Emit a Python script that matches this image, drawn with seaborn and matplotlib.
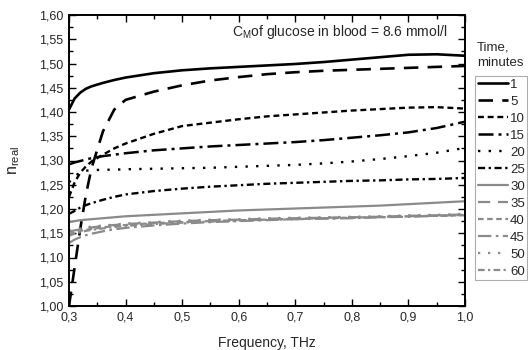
import numpy as np
import pandas as pd
import matplotlib
matplotlib.use("Agg")
import matplotlib.pyplot as plt
from matplotlib.ticker import MultipleLocator, FuncFormatter
import seaborn as sns

# ---------------- data ----------------
freq = [0.30, 0.31, 0.32, 0.33, 0.34, 0.36, 0.38, 0.40, 0.45, 0.50,
        0.55, 0.60, 0.65, 0.70, 0.75, 0.80, 0.85, 0.90, 0.95, 1.00]

times = ["1", "5", "10", "15", "20", "25", "30", "35", "40", "45", "50", "60"]

n_1 = [1.405, 1.428, 1.440, 1.448, 1.453, 1.460, 1.466, 1.471, 1.480, 1.486,
       1.490, 1.493, 1.496, 1.499, 1.503, 1.508, 1.513, 1.518, 1.519, 1.516]
n_5 = [1.000, 1.080, 1.160, 1.230, 1.285, 1.360, 1.405, 1.425, 1.442, 1.455,
       1.465, 1.472, 1.478, 1.482, 1.485, 1.487, 1.489, 1.491, 1.493, 1.495]
n_10 = [1.225, 1.255, 1.275, 1.288, 1.298, 1.312, 1.325, 1.335, 1.355, 1.371,
        1.378, 1.385, 1.391, 1.395, 1.399, 1.403, 1.406, 1.409, 1.410, 1.407]
n_15 = [1.292, 1.296, 1.299, 1.302, 1.305, 1.309, 1.312, 1.315, 1.321, 1.325,
        1.329, 1.332, 1.335, 1.338, 1.342, 1.347, 1.352, 1.358, 1.367, 1.380]
n_20 = [1.255, 1.268, 1.275, 1.279, 1.280, 1.281, 1.281, 1.282, 1.283, 1.284,
        1.285, 1.287, 1.289, 1.291, 1.294, 1.298, 1.303, 1.309, 1.316, 1.326]
n_25 = [1.190, 1.196, 1.203, 1.208, 1.212, 1.219, 1.225, 1.230, 1.237, 1.242,
        1.246, 1.249, 1.252, 1.254, 1.256, 1.258, 1.259, 1.261, 1.262, 1.264]
n_30 = [1.173, 1.175, 1.177, 1.178, 1.179, 1.181, 1.183, 1.185, 1.188, 1.191,
        1.194, 1.197, 1.199, 1.201, 1.203, 1.205, 1.207, 1.210, 1.213, 1.216]
n_35 = [1.153, 1.156, 1.158, 1.160, 1.162, 1.165, 1.167, 1.169, 1.172, 1.175,
        1.177, 1.178, 1.180, 1.181, 1.182, 1.183, 1.184, 1.186, 1.187, 1.189]
n_40 = [1.148, 1.152, 1.155, 1.157, 1.159, 1.162, 1.165, 1.167, 1.171, 1.173,
        1.175, 1.177, 1.178, 1.180, 1.181, 1.182, 1.184, 1.185, 1.186, 1.187]
n_45 = [1.130, 1.137, 1.142, 1.146, 1.149, 1.154, 1.158, 1.161, 1.166, 1.170,
        1.173, 1.175, 1.177, 1.179, 1.180, 1.181, 1.183, 1.184, 1.186, 1.188]
n_50 = [1.155, 1.158, 1.160, 1.162, 1.164, 1.166, 1.168, 1.170, 1.173, 1.176,
        1.178, 1.179, 1.181, 1.182, 1.183, 1.184, 1.185, 1.187, 1.188, 1.190]
n_60 = [1.145, 1.149, 1.152, 1.155, 1.157, 1.160, 1.163, 1.165, 1.169, 1.172,
        1.174, 1.176, 1.178, 1.179, 1.181, 1.182, 1.183, 1.185, 1.186, 1.188]

series = [n_1, n_5, n_10, n_15, n_20, n_25, n_30, n_35, n_40, n_45, n_50, n_60]

annotation = "C$_{M}$of glucose in blood = 8.6 mmol/l"
xlabel = "Frequency, THz"
ylabel = "n$_{real}$"
legend_title = "Time,\nminutes"

# ---------------- style ----------------
sns.set_style("ticks")
plt.rcParams["font.family"] = ["Liberation Sans", "DejaVu Sans"]
plt.rcParams["mathtext.default"] = "regular"

BLACK = "#000000"
GRAY = "#8a8a8a"
colors = [BLACK] * 6 + [GRAY] * 6
patterns = [
    None,               # 1 solid
    (5.5, 3.5),         # 5 long dash
    (2.5, 1.6),         # 10 short dash
    (6, 2, 1.2, 2),     # 15 dash-dot
    (1, 3.5),           # 20 dotted
    (3, 1.5, 1, 1.5),   # 25 short dash-dot
]
patterns = patterns + patterns
widths = [1.9, 1.9, 1.7, 1.8, 1.7, 1.7] + [1.6] * 6

fig = plt.figure(figsize=(5.28, 3.5), dpi=100)
ax = fig.add_axes([69 / 528, 1 - 306 / 350, 396 / 528, 291 / 350])

rows = []
for t, vals in zip(times, series):
    for f, v in zip(freq, vals):
        rows.append({"freq": f, "n": v, "time": t})
df = pd.DataFrame(rows)

for t, c, p, w in zip(times, colors, patterns, widths):
    sub = df[df["time"] == t]
    ls = "-" if p is None else (0, p)
    sns.lineplot(data=sub, x="freq", y="n", ax=ax, color=c, linestyle=ls,
                 linewidth=w, label=t, estimator=None)

ax.set_xlim(0.3, 1.0)
ax.set_ylim(1.0, 1.6)
ax.xaxis.set_major_locator(MultipleLocator(0.1))
ax.xaxis.set_minor_locator(MultipleLocator(0.05))
ax.yaxis.set_major_locator(MultipleLocator(0.05))
ax.yaxis.set_minor_locator(MultipleLocator(0.025))
ax.xaxis.set_major_formatter(FuncFormatter(lambda v, p: f"{v:.1f}".replace(".", ",")))
ax.yaxis.set_major_formatter(FuncFormatter(lambda v, p: f"{v:.2f}".replace(".", ",")))
ax.tick_params(which="both", direction="in", top=True, right=True, color="black")
ax.tick_params(which="major", length=5, width=1.0, labelsize=9, pad=4)
ax.tick_params(which="minor", length=3, width=1.0)
for s in ax.spines.values():
    s.set_linewidth(1.4)
    s.set_color("black")
    s.set_visible(True)

ax.set_xlabel(xlabel, fontsize=10, labelpad=9)
ax.set_ylabel(ylabel, fontsize=11.5, labelpad=12)

ax.text(0.955, 0.94, annotation, transform=ax.transAxes, ha="right", va="center",
        fontsize=10)

handles, labels = ax.get_legend_handles_labels()
if ax.get_legend() is not None:
    ax.get_legend().remove()
leg = fig.legend(handles, labels, loc="upper left",
                 bbox_to_anchor=(475 / 528, 1 - 76 / 350),
                 frameon=True, fancybox=False, fontsize=9.5,
                 handlelength=2.3, handletextpad=0.15, labelspacing=0.36,
                 borderpad=0.2, borderaxespad=0.0)
leg.get_frame().set_edgecolor("#9a9a9a")
leg.get_frame().set_linewidth(0.8)

fig.text(477 / 528, 1 - 42 / 350, legend_title, ha="left", va="top",
         fontsize=9.5, linespacing=1.3)

fig.savefig("out.png", dpi=100)
